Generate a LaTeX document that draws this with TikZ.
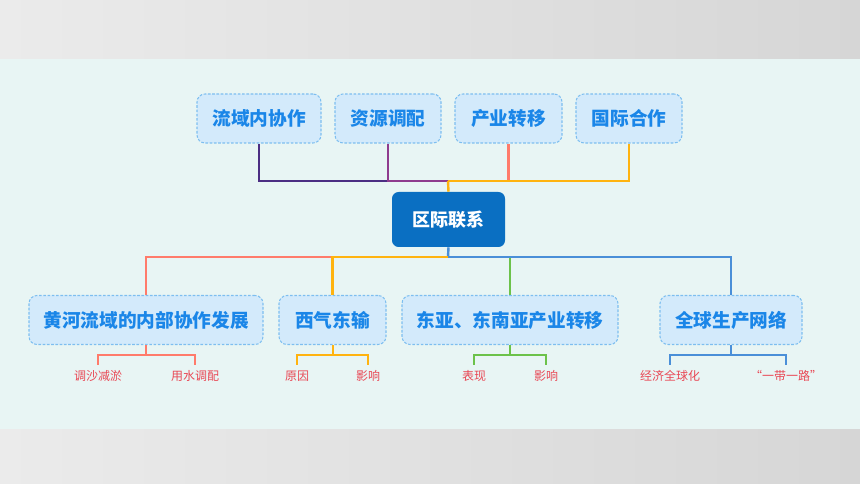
\documentclass[tikz,border=0pt]{standalone}
\usepackage{fontspec}
\usepackage{tikz}
\newfontfamily\cjk{Noto Sans CJK SC}
\definecolor{panel}{HTML}{E8F5F4}
\definecolor{greyL}{HTML}{EBEBEB}
\definecolor{greyR}{HTML}{D6D6D6}
\definecolor{boxfill}{HTML}{D3EAFB}
\definecolor{boxline}{HTML}{7DBEF0}
\definecolor{boxtext}{HTML}{1A86E8}
\definecolor{hubfill}{HTML}{0A6FC2}
\definecolor{cIndigo}{HTML}{4B2E83}
\definecolor{cPurple}{HTML}{8E3C8E}
\definecolor{cSalmon}{HTML}{FF7B6B}
\definecolor{cOrange}{HTML}{FFB30F}
\definecolor{cGreen}{HTML}{6CC24A}
\definecolor{cBlue}{HTML}{4A8FD8}
\definecolor{labred}{HTML}{E84855}

\begin{document}
\begin{tikzpicture}[x=0.75pt,y=-0.75pt,
	topic/.style ={rounded corners=6pt, draw=boxline, fill=boxfill, line width=0.8pt, dash pattern=on 2pt off 1.2pt, text=boxtext, font=\cjk\bfseries\fontsize{14}{16}\selectfont, minimum height=36.75pt, inner sep=0pt},
	hub/.style ={rounded corners=5pt, fill=hubfill, text=white, font=\cjk\bfseries\fontsize{13.5}{16}\selectfont, minimum width=84.75pt, minimum height=41.25pt},
	leaf/.style ={text=labred, font=\cjk\fontsize{9}{10}\selectfont, text height=8pt, text depth=2pt, inner sep=4pt},
	link/.style ={line width=1.8pt},
	twig/.style ={line width=1.5pt}]
		% background bands
		\shade[left color=greyL, right color=greyR] (0,0) rectangle (860,59);
		\fill[panel] (0,59) rectangle (860,429);
		\shade[left color=greyL, right color=greyR] (0,429) rectangle (860,484);
		% nodes
		\node[hub] (hub) at (448.5,219.5) {区际联系};
		\node[topic, minimum width=93pt] (t1) at (259,118.5) {流域内协作};
		\node[topic, minimum width=79.5pt] (t2) at (388,118.5) {资源调配};
		\node[topic, minimum width=80.25pt] (t3) at (508.5,118.5) {产业转移};
		\node[topic, minimum width=79.5pt] (t4) at (629,118.5) {国际合作};
		\node[topic, minimum width=175.5pt] (b1) at (146,320) {黄河流域的内部协作发展};
		\node[topic, minimum width=80.25pt] (b2) at (332.5,320) {西气东输};
		\node[topic, minimum width=162pt] (b3) at (510,320) {东亚、东南亚产业转移};
		\node[topic, minimum width=106.5pt] (b4) at (731,320) {全球生产网络};
		\node[leaf] (l1) at (98,377) {调沙减淤};
		\node[leaf] (l2) at (195,377) {用水调配};
		\node[leaf] (l3) at (297,377) {原因};
		\node[leaf] (l4) at (368,377) {影响};
		\node[leaf] (l5) at (474,377) {表现};
		\node[leaf] (l6) at (546,377) {影响};
		\node[leaf] (l7) at (670,377) {经济全球化};
		\node[leaf] (l8) at (786,377) {“一带一路”};
		\coordinate (jt) at (448,181);
		\coordinate (jb) at (448,257);
		\coordinate (j1) at (146,355);
		\coordinate (j2) at (332.5,355);
		\coordinate (j3) at (510,355);
		\coordinate (j4) at (731,355);
		% upper connectors
		\draw[link, cIndigo] (t1.south) |- (jt);
		\draw[link, cPurple] (t2.south) |- (jt);
		\draw[link, cSalmon] (t3.south) |- (jt);
		\draw[link, cOrange] (t4.south) |- (jt);
		\draw[link, cOrange] (jt)--(hub.north);
		% lower connectors
		\draw[link, cBlue] (hub.south)--(jb);
		\draw[link, cSalmon] (jb) -| (b1.north);
		\draw[link, cOrange] (jb) -| (b2.north);
		\draw[link, cGreen] (jb) -| (b3.north);
		\draw[link, cBlue] (jb) -| (b4.north);
		% leaves
		\draw[twig, cSalmon] (b1.south)--(j1);
		\draw[twig, cSalmon] (l1.north) |- (j1) -| (l2.north);
		\draw[twig, cOrange] (b2.south)--(j2);
		\draw[twig, cOrange] (l3.north) |- (j2) -| (l4.north);
		\draw[twig, cGreen] (b3.south)--(j3);
		\draw[twig, cGreen] (l5.north) |- (j3) -| (l6.north);
		\draw[twig, cBlue] (b4.south)--(j4);
		\draw[twig, cBlue] (l7.north) |- (j4) -| (l8.north);
	\end{tikzpicture}
\end{document}
